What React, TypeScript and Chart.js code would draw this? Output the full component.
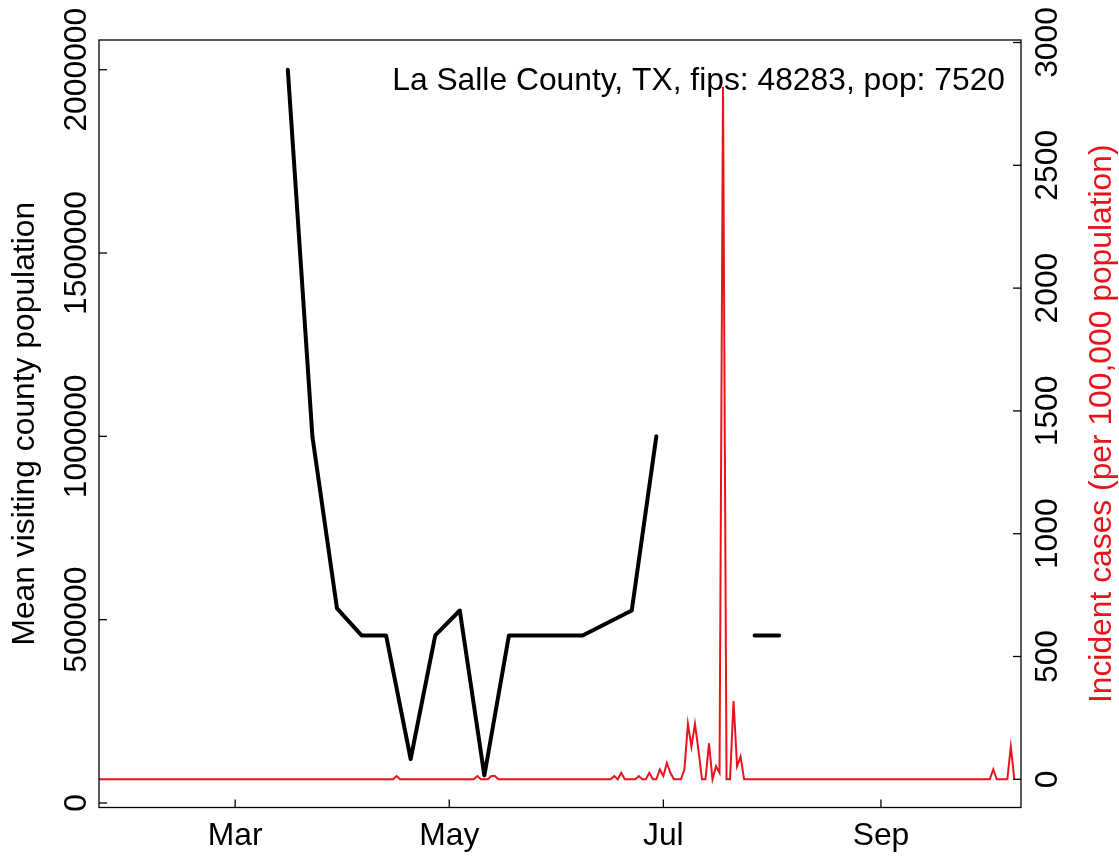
import React, { useEffect, useRef } from "react";
import { Chart, registerables } from "chart.js";

Chart.register(...registerables);

const ANNOTATION = "La Salle County, TX, fips: 48283, pop: 7520";
const LEFT_TITLE = "Mean visiting county population";
const RIGHT_TITLE = "Incident cases (per 100,000 population)";

// x axis: day of year 2020 (Jan 1 = day 0)
const monthTickDays = [60, 121, 182, 244];
const monthTickLabels = ["Mar", "May", "Jul", "Sep"];
const leftTicks = [0, 500000, 1000000, 1500000, 2000000];
const rightTicks = [0, 500, 1000, 1500, 2000, 2500, 3000];

// weekly mean visiting county population (black)
const visitDays = [75, 82, 89, 96, 103, 110, 117, 124, 131, 138, 145, 152, 159, 166, 173, 180, 187, 194, 201, 208, 215];
const visitValues = [
  2000000, 1000000, 531000, 457000, 457000, 120000, 457000, 525000, 75000, 457000,
  457000, 457000, 457000, 491000, 525000, 1000000, null, null, null, 457000, 457000,
];

// daily incident cases per 100,000 (red), first day = caseStartDay
const caseStartDay = 21;
const caseValues = [
  0, 0, 0, 0, 0, 0, 0, 0, 0, 0,
  0, 0, 0, 0, 0, 0, 0, 0, 0, 0,
  0, 0, 0, 0, 0, 0, 0, 0, 0, 0,
  0, 0, 0, 0, 0, 0, 0, 0, 0, 0,
  0, 0, 0, 0, 0, 0, 0, 0, 0, 0,
  0, 0, 0, 0, 0, 0, 0, 0, 0, 0,
  0, 0, 0, 0, 0, 0, 0, 0, 0, 0,
  0, 0, 0, 0, 0, 0, 0, 0, 0, 0,
  0, 0, 0, 0, 0, 13.3, 0, 0, 0, 0,
  0, 0, 0, 0, 0, 0, 0, 0, 0, 0,
  0, 0, 0, 0, 0, 0, 0, 0, 13.3, 0,
  0, 0, 13.3, 13.3, 0, 0, 0, 0, 0, 0,
  0, 0, 0, 0, 0, 0, 0, 0, 0, 0,
  0, 0, 0, 0, 0, 0, 0, 0, 0, 0,
  0, 0, 0, 0, 0, 0, 0, 13.3, 0, 26.6,
  0, 0, 0, 0, 13.3, 0, 0, 26.6, 0, 0,
  39.9, 13.3, 66.5, 26.6, 0, 0, 0, 39.9, 226.1, 133.0,
  226.1, 119.7, 0, 0, 146.3, 0, 53.2, 26.6, 2819.1, 0,
  0, 319.1, 53.2, 93.1, 0, 0, 0, 0, 0, 0,
  0, 0, 0, 0, 0, 0, 0, 0, 0, 0,
  0, 0, 0, 0, 0, 0, 0, 0, 0, 0,
  0, 0, 0, 0, 0, 0, 0, 0, 0, 0,
  0, 0, 0, 0, 0, 0, 0, 0, 0, 0,
  0, 0, 0, 0, 0, 0, 0, 0, 0, 0,
  0, 0, 0, 0, 0, 0, 0, 0, 0, 0,
  0, 0, 0, 0, 0, 39.9, 0, 0, 0, 0,
  133.0, 0,
];

const RED = "#e8141c";
const FONT = '31.8px "Liberation Sans", Arial, Helvetica, sans-serif';

const rAxesPlugin = {
  id: "rAxes",
  afterDraw(chart: any) {
    const { ctx, chartArea: a, scales } = chart;
    const xs = scales.x;
    const yl = scales.yL;
    const yr = scales.yR;
    ctx.save();
    ctx.strokeStyle = "#000";
    ctx.lineWidth = 1.3;
    ctx.strokeRect(a.left, a.top, a.right - a.left, a.bottom - a.top);

    const seg = (x1: number, y1: number, x2: number, y2: number) => {
      ctx.beginPath();
      ctx.moveTo(x1, y1);
      ctx.lineTo(x2, y2);
      ctx.stroke();
    };
    const rotText = (t: string, x: number, y: number, color: string) => {
      ctx.save();
      ctx.translate(x, y);
      ctx.rotate(-Math.PI / 2);
      ctx.textAlign = "center";
      ctx.textBaseline = "alphabetic";
      ctx.fillStyle = color;
      ctx.fillText(t, 0, 0);
      ctx.restore();
    };

    ctx.font = FONT;
    ctx.fillStyle = "#000";
    monthTickDays.forEach((d, i) => {
      const px = xs.getPixelForValue(d);
      seg(px, a.bottom, px, a.bottom - 8);
      ctx.textAlign = "center";
      ctx.textBaseline = "alphabetic";
      ctx.fillText(monthTickLabels[i], px, a.bottom + 37.5);
    });
    leftTicks.forEach((v) => {
      const py = yl.getPixelForValue(v);
      seg(a.left, py, a.left + 8, py);
      rotText(String(v), a.left - 13, py, "#000");
    });
    rightTicks.forEach((v) => {
      const py = yr.getPixelForValue(v);
      seg(a.right, py, a.right - 8, py);
      rotText(String(v), a.right + 36, py, "#000");
    });
    const midY = (a.top + a.bottom) / 2;
    rotText(LEFT_TITLE, 34, midY, "#000");
    rotText(RIGHT_TITLE, a.right + 90, midY, RED);

    ctx.textAlign = "right";
    ctx.textBaseline = "alphabetic";
    ctx.fillStyle = "#000";
    ctx.fillText(ANNOTATION, a.right - 16, a.top + 50);
    ctx.restore();
  },
};

export default function App() {
  const ref = useRef<HTMLCanvasElement | null>(null);
  useEffect(() => {
    if (!ref.current) return;
    const visitData = visitDays.map((d, i) => ({ x: d, y: visitValues[i] }));
    const caseData = caseValues.map((v, i) => ({ x: caseStartDay + i, y: v }));
    const chart = new Chart(ref.current, {
      type: "line",
      data: {
        datasets: [
          {
            label: "visits",
            data: visitData as any,
            yAxisID: "yL",
            borderColor: "#000",
            borderWidth: 4,
            borderCapStyle: "round",
            borderJoinStyle: "round",
            pointRadius: 0,
            spanGaps: false,
            tension: 0,
          },
          {
            label: "cases",
            data: caseData as any,
            yAxisID: "yR",
            borderColor: RED,
            borderWidth: 2,
            borderJoinStyle: "miter",
            pointRadius: 0,
            tension: 0,
          },
        ],
      },
      options: {
        responsive: false,
        animation: false,
        devicePixelRatio: 1,
        layout: { padding: { left: 99, right: 98, top: 40, bottom: 48.5 } },
        plugins: { legend: { display: false }, tooltip: { enabled: false } },
        scales: {
          x: { type: "linear", display: false, min: 21.2, max: 283.9 },
          yL: { type: "linear", display: false, position: "left", min: -12273, max: 2081004 },
          yR: { type: "linear", display: false, position: "right", min: -114.8, max: 3010.2 },
        },
      },
      plugins: [rAxesPlugin],
    });
    return () => chart.destroy();
  }, []);
  return (
    <div style={{ position: "absolute", left: 0, top: 0, width: 1119, height: 856, background: "#fff" }}>
      <canvas ref={ref} width={1119} height={856} style={{ display: "block" }} />
    </div>
  );
}
